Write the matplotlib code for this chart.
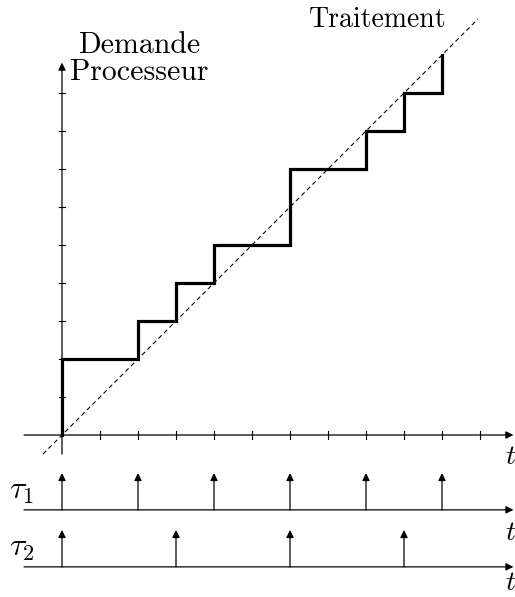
import numpy as np
import matplotlib
matplotlib.use('Agg')
import matplotlib.pyplot as plt

plt.rcParams['mathtext.fontset'] = 'cm'

# arrival instants of each task (one unit of demand per arrival)
tau1_arrivals = [0, 2, 4, 6, 8, 10]
tau2_arrivals = [0, 3, 6, 9]

# cumulative processor demand, step at each arrival instant
instants = sorted(set(tau1_arrivals + tau2_arrivals))
demand = [sum(a <= t for a in tau1_arrivals) + sum(a <= t for a in tau2_arrivals) for t in instants]

x_ticks = np.arange(1, 12)
y_ticks = np.arange(1, 10)

# pixel scale: origin at (62, 435), 38 px per unit
fig = plt.figure(figsize=(5.15, 5.97), dpi=100)
ax = fig.add_axes([0, 0, 1, 1])
ax.set_xlim(-62 / 38, 453 / 38)
ax.set_ylim((435 - 597) / 38, 435 / 38)
ax.axis('off')

arrow = dict(arrowstyle='-|>', color='black', lw=0.9, mutation_scale=11, shrinkA=0, shrinkB=0)

# main axes
ax.annotate('', xy=(11.88, 0), xytext=(-1.0, 0), arrowprops=arrow, annotation_clip=False)
ax.annotate('', xy=(0, 9.8), xytext=(0, -0.5), arrowprops=arrow, annotation_clip=False)
for t in x_ticks:
    ax.plot([t, t], [-0.1, 0.1], color='black', lw=0.8)
for v in y_ticks:
    ax.plot([-0.08, 0.08], [v, v], color='black', lw=0.8)

# processing capacity (diagonal)
ax.plot([-0.5, 10.95], [-0.5, 10.95], color='black', lw=0.8, dashes=(4, 3))

# demand step curve
ax.step([0] + instants, [0] + demand, where='post', color='black', lw=2.3,
        solid_joinstyle='miter')

ax.text(2.03, 10.05, 'Demande', fontfamily='cmr10', fontsize=21.5, ha='center', va='baseline')
ax.text(2.03, 9.34, 'Processeur', fontfamily='cmr10', fontsize=21.5, ha='center', va='baseline')
ax.text(8.32, 10.74, 'Traitement', fontfamily='cmr10', fontsize=20, ha='center', va='baseline')

# task timelines
for base, arrivals, name in [(-1.97, tau1_arrivals, r'$\tau_1$'),
                             (-3.47, tau2_arrivals, r'$\tau_2$')]:
    ax.annotate('', xy=(11.88, base), xytext=(-1.0, base), arrowprops=arrow,
                annotation_clip=False)
    for a in arrivals:
        ax.annotate('', xy=(a, base + 0.97), xytext=(a, base), arrowprops=arrow)
    ax.text(-1.4, base + 0.5, name, fontsize=23, ha='left', va='center')

for yt in [-0.55, -2.55, -3.88]:
    ax.text(11.65, yt, r'$t$', fontsize=20, ha='left', va='center')

fig.savefig('out.png', dpi=100)
